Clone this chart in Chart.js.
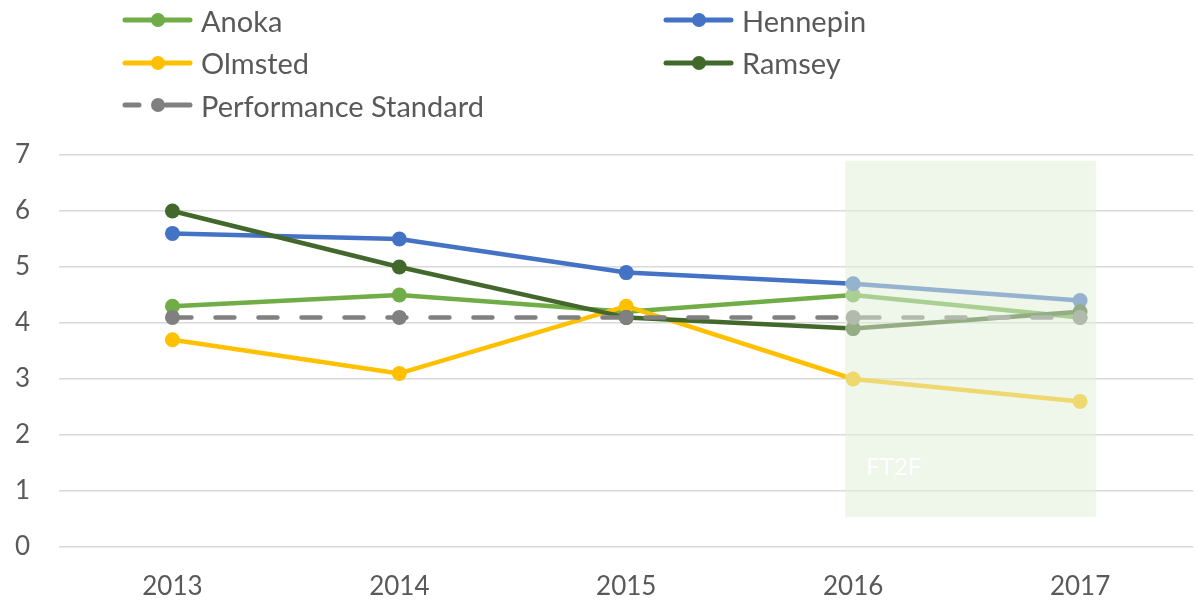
<!DOCTYPE html>
<html>
<head>
<meta charset="utf-8">
<script src="https://cdn.jsdelivr.net/npm/chart.js@4/dist/chart.umd.min.js"></script>
<style>
  body { margin: 0; background: #fff; }
  #wrap { position: relative; width: 1201px; height: 604px; }
  #legend { position: absolute; left: 0; top: 0; width: 1201px; height: 130px; font-family: Lato, sans-serif; font-size: 29px; color: #595959; }
  .item { position: absolute; height: 30px; display: flex; align-items: center; white-space: nowrap; }
  .item canvas { margin-right: 5px; }
</style>
</head>
<body>
<div id="wrap">
  <canvas id="myChart" width="1201" height="604"></canvas>
  <div id="legend"></div>
</div>
<script>
const years = ['2013', '2014', '2015', '2016', '2017'];
const anoka = [4.3, 4.5, 4.2, 4.5, 4.1];
const hennepin = [5.6, 5.5, 4.9, 4.7, 4.4];
const olmsted = [3.7, 3.1, 4.3, 3.0, 2.6];
const ramsey = [6.0, 5.0, 4.1, 3.9, 4.2];
const standard = [4.1, 4.1, 4.1, 4.1, 4.1];
const yMin = 0, yMax = 7, yStep = 1;
const shadeLabel = 'FT2F';

const textColor = '#595959';
const ctx = document.getElementById('myChart');

function series(label, data, color, order) {
  return {
    label: label,
    data: data,
    borderColor: color,
    backgroundColor: color,
    borderWidth: 4.5,
    pointRadius: 7.5,
    pointHoverRadius: 7.5,
    pointBorderWidth: 0,
    borderCapStyle: 'round',
    borderJoinStyle: 'round',
    order: order
  };
}

var psSet = series('Performance Standard', standard, '#808080', 1);
psSet.borderDash = [19, 24];

// grey-green box drawn over the 2016-2017 part
const shadeBox = {
  id: 'shadeBox',
  afterDatasetsDraw(chart) {
    const x = chart.scales.x, y = chart.scales.y;
    const c = chart.ctx;
    const left = x.getPixelForValue(2.965);
    const right = x.getPixelForValue(4.07);
    const top = y.getPixelForValue(6.9);
    const bottom = y.getPixelForValue(0.54);
    c.save();
    c.fillStyle = 'rgba(224, 238, 215, 0.52)';
    c.fillRect(left, top, right - left, bottom - top);
    c.fillStyle = '#ffffff';
    c.font = '24px Lato, sans-serif';
    c.textBaseline = 'alphabetic';
    c.fillText(shadeLabel, left + 21, bottom - 42);
    c.restore();
  }
};

const myChart = new Chart(ctx, {
  type: 'line',
  data: {
    labels: years,
    datasets: [
      series('Anoka', anoka, '#70ad47', 5),
      series('Hennepin', hennepin, '#4472c4', 4),
      series('Olmsted', olmsted, '#ffc000', 3),
      series('Ramsey', ramsey, '#43682b', 2),
      psSet
    ]
  },
  options: {
    responsive: false,
    animation: false,
    layout: { padding: { top: 155, right: 6, left: 0, bottom: 0 } },
    plugins: { legend: { display: false }, tooltip: { enabled: false } },
    scales: {
      x: {
        offset: true,
        grid: { display: false, drawTicks: false },
        border: { display: false },
        ticks: { color: textColor, font: { family: 'Lato', size: 26 }, padding: 24 },
        afterFit: function(scale) { scale.height = 57; }
      },
      y: {
        min: yMin,
        max: yMax,
        grid: { color: '#d9d9d9', lineWidth: 1.5, drawTicks: false },
        border: { display: false },
        ticks: { stepSize: yStep, color: textColor, font: { family: 'Lato', size: 26 }, padding: 29 },
        afterFit: function(scale) { scale.width = 59; }
      }
    }
  },
  plugins: [shadeBox]
});

// html legend, two columns
const legendBox = document.getElementById('legend');
const legendOrder = [0, 1, 2, 3, 4];
legendOrder.forEach(function(idx, i) {
  const ds = myChart.data.datasets[idx];
  const item = document.createElement('div');
  item.className = 'item';
  item.style.left = (i % 2 === 0 ? 122 : 663) + 'px';
  item.style.top = (5 + Math.floor(i / 2) * 42.5) + 'px';
  const sw = document.createElement('canvas');
  sw.width = 74; sw.height = 20;
  const g = sw.getContext('2d');
  g.strokeStyle = ds.borderColor;
  g.fillStyle = ds.borderColor;
  g.lineWidth = 5;
  g.lineCap = 'round';
  g.beginPath();
  if (ds.borderDash) {
    g.moveTo(3, 10); g.lineTo(17, 10);
    g.moveTo(44, 10); g.lineTo(68, 10);
  } else {
    g.moveTo(3, 10); g.lineTo(68, 10);
  }
  g.stroke();
  g.beginPath();
  g.arc(36, 10, 7, 0, Math.PI * 2);
  g.fill();
  item.appendChild(sw);
  const t = document.createElement('span');
  t.textContent = ds.label;
  item.appendChild(t);
  legendBox.appendChild(item);
});
</script>
</body>
</html>
